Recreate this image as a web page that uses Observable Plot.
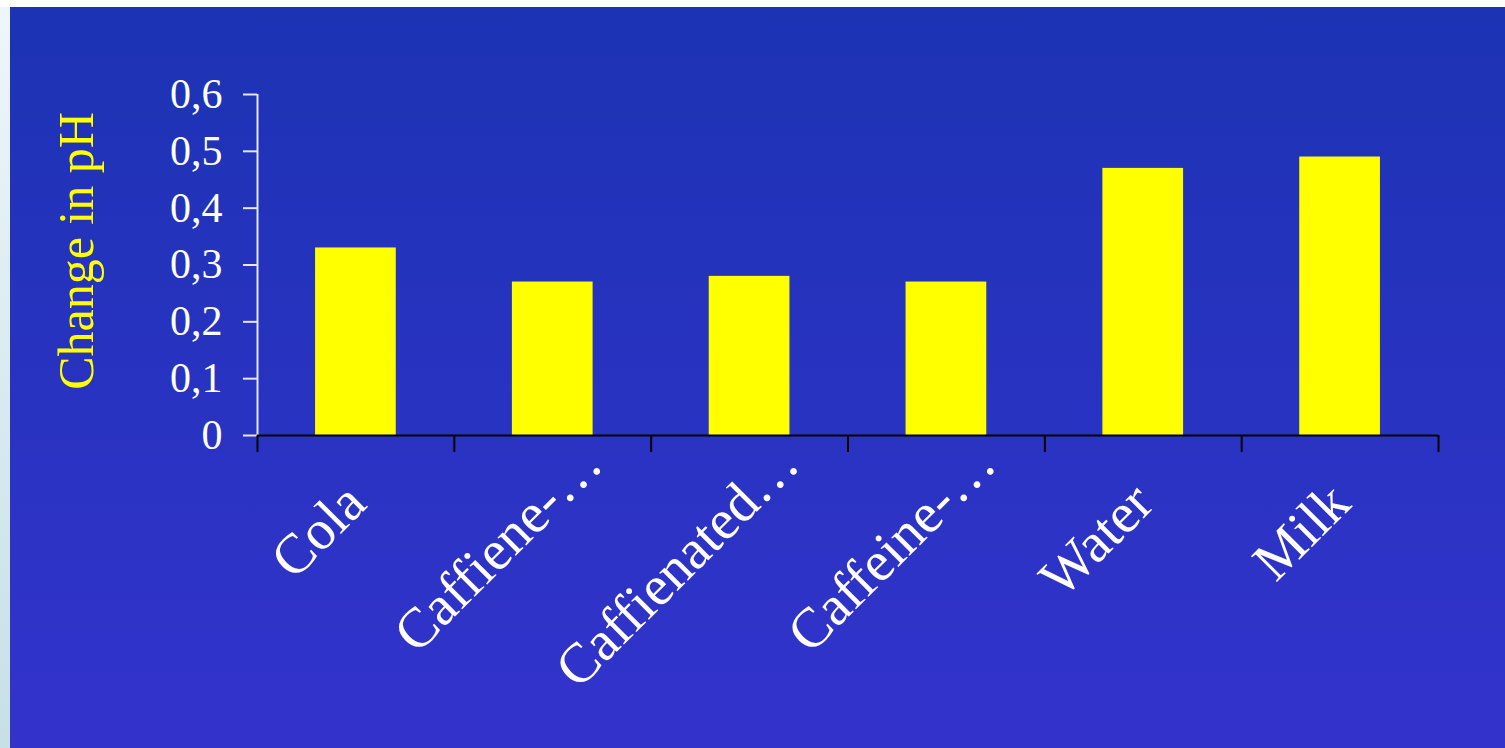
<!DOCTYPE html>
<html><head><meta charset="utf-8">
<script src="https://cdn.jsdelivr.net/npm/d3@7"></script>
<script src="https://cdn.jsdelivr.net/npm/@observablehq/plot@0.6"></script>
<style>
html,body{margin:0;padding:0;width:1505px;height:748px;overflow:hidden;background:#fff;}
#strip{position:absolute;left:0;top:7px;width:10px;height:741px;background:linear-gradient(#eef6fa,#c6e0e6);}
#panel{position:absolute;left:10px;top:7px;width:1495px;height:741px;background:linear-gradient(#1c33b4,#3333cc);}
#chart{position:absolute;left:0;top:0;}
</style></head><body>
<div id="strip"></div><div id="panel"></div><div id="chart"></div>
<script>
const drinks = ["Cola","Caffiene-…","Caffienated…","Caffeine-…","Water","Milk"];
const phChange = [0.33,0.27,0.28,0.27,0.47,0.49];
const yTicks = [0,0.1,0.2,0.3,0.4,0.5,0.6];
const yTitle = "Change in pH";

const data = drinks.map((d,i)=>({drink:d, change: phChange[i]}));
const truncated = drinks.filter(d => d.endsWith("…"));
const W=1505,H=748,ML=257,MR=67,MT=94,MB=313;
const step=(W-ML-MR)/drinks.length;
const LABEL_SIZE=56, LABEL_PAD=58;
const chart = Plot.plot({
  width:W,height:H,marginLeft:ML,marginRight:MR,marginTop:MT,marginBottom:MB,
  style:{background:"transparent",fontFamily:"'Liberation Serif','Times New Roman',serif",overflow:"visible"},
  x:{domain:drinks,paddingInner:0.59,paddingOuter:0.295,round:false,label:null},
  y:{domain:[0,0.6],label:null},
  marks:[
    Plot.barY(data,{x:"drink",y:"change",fill:"#ffff00"}),
    Plot.ruleX([drinks[0]],{x:d=>d,y1:0,y2:0.6,dx:-step/2,stroke:"#e6e6f5",strokeWidth:2}),
    Plot.axisY({ticks:yTicks,tickSize:14,tickPadding:21,tickFormat:d=>d===0?"0":String(d).replace(".",","),fontSize:42,color:"#ffffff",stroke:"#e6e6f5",strokeWidth:2,label:null}),
    Plot.ruleY([0],{stroke:"#000",strokeWidth:2}),
    Plot.axisX({tickSize:17,dx:-step/2,fill:"none",stroke:"#000",strokeWidth:2,label:null}),
    Plot.axisX({ticks:[drinks[drinks.length-1]],tickSize:17,dx:step/2,fill:"none",stroke:"#000",strokeWidth:2,label:null}),
    Plot.axisX({tickSize:0,tickRotate:-45,tickPadding:LABEL_PAD,tickFormat:d=>d.replace("…",""),fontSize:LABEL_SIZE,fill:"#ffffff",label:null}),
    Plot.text(truncated,{x:d=>d,text:()=>"…",frameAnchor:"bottom",textAnchor:"start",lineAnchor:"middle",rotate:-45,dy:LABEL_PAD,fontSize:LABEL_SIZE,fill:"#ffffff"}),
    Plot.text([yTitle],{text:d=>d,frameAnchor:"left",textAnchor:"middle",lineAnchor:"middle",rotate:-90,dx:-181,dy:-14,fill:"#ffff00",fontSize:50})
  ]
});
document.getElementById("chart").appendChild(chart);
</script>
</body></html>
